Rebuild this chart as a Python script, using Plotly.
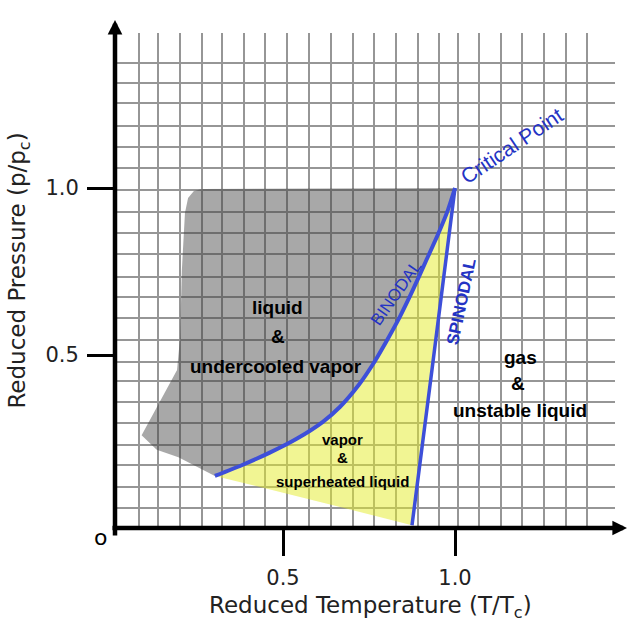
import plotly.graph_objects as go

# ---- data (reduced T, reduced p) ----
GRID_T = [0.080, 0.137, 0.200, 0.265, 0.324, 0.387, 0.448, 0.512, 0.576, 0.639, 0.704,
          0.765, 0.828, 0.892, 0.953, 1.009, 1.070, 1.134, 1.195, 1.260, 1.324, 1.384]
GRID_P = [1.373, 1.315, 1.254, 1.186, 1.122, 1.059, 0.994, 0.929, 0.866, 0.801, 0.734,
          0.675, 0.610, 0.545, 0.480, 0.423, 0.360, 0.296, 0.231, 0.171, 0.106, 0.041]

BINODAL_T = [0.302, 0.38, 0.46, 0.541, 0.616, 0.666, 0.72, 0.76, 0.80, 0.84, 0.88, 0.915, 0.95, 0.978, 1.0]
BINODAL_P = [0.138, 0.170, 0.207, 0.250, 0.300, 0.345, 0.41, 0.47, 0.54, 0.615, 0.70, 0.78, 0.86, 0.93, 1.0]

SPINODAL_T = [1.0, 0.933, 0.875]
SPINODAL_P = [1.0, 0.455, -0.01]

YELLOW_LOW_T = [0.666, 0.302]
YELLOW_LOW_P = [0.045, 0.138]

GRAY_EDGE_T = [0.196, 0.133, 0.089, 0.192, 0.201, 0.206, 0.215, 0.224, 0.241, 0.265, 1.0]
GRAY_EDGE_P = [0.194, 0.216, 0.260, 0.455, 0.554, 0.754, 0.925, 0.970, 0.991, 0.997, 1.0]

TICK_VALS = [0.5, 1.0]
TICK_TEXT = ["0.5", "1.0"]

BLUE_LINE = "#3d4fd9"
BLUE_TEXT = "#2433c4"

fig = go.Figure()

# gray region: liquid & undercooled vapor
gray_t = [BINODAL_T[0]] + GRAY_EDGE_T + BINODAL_T[::-1]
gray_p = [BINODAL_P[0]] + GRAY_EDGE_P + BINODAL_P[::-1]
fig.add_trace(go.Scatter(x=gray_t, y=gray_p, fill="toself", mode="lines",
                         line=dict(width=0), fillcolor="rgba(61,61,61,0.45)",
                         hoverinfo="skip", showlegend=False))

# yellow region: vapor & superheated liquid
yel_t = BINODAL_T + SPINODAL_T[1:] + YELLOW_LOW_T
yel_p = BINODAL_P + SPINODAL_P[1:] + YELLOW_LOW_P
fig.add_trace(go.Scatter(x=yel_t, y=yel_p, fill="toself", mode="lines",
                         line=dict(width=0), fillcolor="rgba(228,236,40,0.5)",
                         hoverinfo="skip", showlegend=False))

# binodal and spinodal curves
fig.add_trace(go.Scatter(x=BINODAL_T, y=BINODAL_P, mode="lines",
                         line=dict(color=BLUE_LINE, width=4, shape="spline", smoothing=0.6),
                         showlegend=False))
fig.add_trace(go.Scatter(x=SPINODAL_T, y=SPINODAL_P, mode="lines",
                         line=dict(color=BLUE_LINE, width=3.5, shape="spline", smoothing=0.4),
                         showlegend=False))

ann = []
# axes with arrows
ann.append(dict(x=1.024, y=0, xref="paper", yref="paper", ax=-516, ay=0,
                axref="pixel", ayref="pixel", showarrow=True, arrowhead=2,
                arrowsize=0.65, arrowwidth=4.5, arrowcolor="black", text=""))
ann.append(dict(x=0, y=1.0263, xref="paper", yref="paper", ax=0, ay=517,
                axref="pixel", ayref="pixel", showarrow=True, arrowhead=2,
                arrowsize=0.65, arrowwidth=4.5, arrowcolor="black", text=""))

ann.append(dict(x=-0.03, y=-0.02, xref="paper", yref="paper", text="o", showarrow=False,
                font=dict(family="DejaVu Sans", size=22, color="black"),
                xanchor="center", yanchor="middle"))
ann.append(dict(x=0.51, y=-0.1596, xref="paper", yref="paper",
                text="Reduced Temperature (T/T<sub>c</sub>)", showarrow=False,
                font=dict(family="DejaVu Sans", size=23, color="#222"),
                xanchor="center", yanchor="middle"))
ann.append(dict(x=-0.192, y=0.52, xref="paper", yref="paper",
                text="Reduced Pressure (p/p<sub>c</sub>)", showarrow=False, textangle=-90,
                font=dict(family="DejaVu Sans", size=23, color="#222"),
                xanchor="center", yanchor="middle"))

def lab(t, p, text, size, color="black", angle=0, bold=True, family="Liberation Sans"):
    ann.append(dict(x=t, y=p, xref="x", yref="y", text=("<b>%s</b>" % text) if bold else text,
                    showarrow=False, textangle=angle, xanchor="center", yanchor="middle",
                    font=dict(family=family, size=size, color=color)))

lab(0.485, 0.641, "liquid", 19)
lab(0.485, 0.554, "&", 19)
lab(0.480, 0.467, "undercooled vapor", 19)
lab(1.189, 0.494, "gas", 19)
lab(1.183, 0.416, "&", 19)
lab(1.189, 0.335, "unstable liquid", 19)
lab(0.674, 0.246, "vapor", 15)
lab(0.672, 0.192, "&", 15)
lab(0.674, 0.120, "superheated liquid", 15)
lab(1.166, 1.126, "Critical Point", 21, BLUE_TEXT, -34, bold=False)
lab(0.831, 0.686, "BINODAL", 17, BLUE_TEXT, -55, bold=False)
lab(1.020, 0.659, "SPINODAL", 17, BLUE_TEXT, -78, bold=True)

fig.update_layout(
    width=628, height=623, autosize=False,
    margin=dict(l=115, r=13, t=33, b=95),
    paper_bgcolor="white", plot_bgcolor="white",
    annotations=ann,
    xaxis=dict(range=[0.011628, 1.465116], tickmode="array", tickvals=TICK_VALS,
               ticktext=TICK_TEXT, ticks="outside", ticklen=27, tickwidth=3,
               tickcolor="black", showgrid=False, zeroline=False, showline=False,
               ticklabelstandoff=4,
               tickfont=dict(family="DejaVu Sans", size=21, color="#222"),
               minor=dict(tickmode="array", tickvals=GRID_T, showgrid=True,
                          gridcolor="rgb(150,150,150)", gridwidth=2, ticks="")),
    yaxis=dict(range=[-0.017964, 1.464072], tickmode="array", tickvals=TICK_VALS,
               ticktext=TICK_TEXT, ticks="outside", ticklen=27, tickwidth=3,
               tickcolor="black", showgrid=False, zeroline=False, showline=False,
               ticklabelstandoff=4,
               tickfont=dict(family="DejaVu Sans", size=21, color="#222"),
               minor=dict(tickmode="array", tickvals=GRID_P, showgrid=True,
                          gridcolor="rgb(150,150,150)", gridwidth=2, ticks="")),
)

fig.write_html("out.html")
